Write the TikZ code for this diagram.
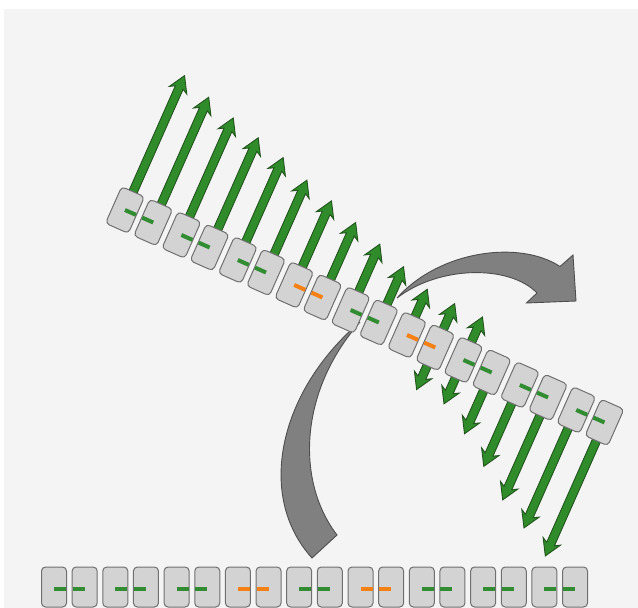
\documentclass[tikz,border=0pt]{standalone}
\definecolor{bg}{RGB}{244,244,244}
\definecolor{boxfill}{RGB}{211,211,211}
\definecolor{boxline}{RGB}{112,112,112}
\definecolor{gfill}{RGB}{48,140,42}
\definecolor{gline}{RGB}{34,84,30}
\definecolor{dashg}{RGB}{50,140,50}
\definecolor{dasho}{RGB}{245,128,20}
\definecolor{grayfill}{RGB}{128,128,128}
\definecolor{grayline}{RGB}{78,78,78}
\tikzset{
  cell/.style={draw=boxline, fill=boxfill, line width=1pt, rounded corners=4pt,
    minimum width=25pt, minimum height=40pt, inner sep=0pt},
  fatarrow/.style={fill=gfill, draw=gline, line width=0.9pt, line join=miter},
  greyband/.style={fill=grayfill, draw=grayline, line width=0.9pt},
  pairdash/.style={line width=4pt},
}
\begin{document}
\begin{tikzpicture}[x=1pt,y=-1pt]
\useasboundingbox (0,0) rectangle (638,608);
\fill[white] (0,0) rectangle (638,608);
\fill[bg] (4,9) rectangle (638,608);

% green arrows, in the frame of the tilted chain
\begin{scope}[shift={(125,210)}, rotate=-23.9]
  \foreach \i/\L in {1/147,2/137,3/128,4/120,5/112,6/101,7/92,8/82,9/72,10/61,11/50,12/48,13/47} {
    \pgfmathsetmacro\xx{30.85*(\i-1)}
    \filldraw[fatarrow] (\xx-4.25,0) -- (\xx-4.25,-\L+13) -- (\xx-9.5,-\L+16) -- (\xx,-\L)
      -- (\xx+9.5,-\L+16) -- (\xx+4.25,-\L+13) -- (\xx+4.25,0) -- cycle;
  }
  \foreach \i/\L in {12/46,13/48,14/67,15/89,16/112,17/129,18/146} {
    \pgfmathsetmacro\xx{30.85*(\i-1)}
    \filldraw[fatarrow] (\xx-4.25,0) -- (\xx-4.25,\L-13) -- (\xx-9.5,\L-16) -- (\xx,\L)
      -- (\xx+9.5,\L-16) -- (\xx+4.25,\L-13) -- (\xx+4.25,0) -- cycle;
  }
\end{scope}

% grey curved arrows
\filldraw[greyband] (397,298) .. controls (440,250) and (520,240) .. (560,266.5)
  -- (573,255) -- (576,301) -- (526.5,303) -- (537,293)
  .. controls (510,265) and (440,265) .. (397,298) -- cycle;
\filldraw[greyband] (360,322) .. controls (280,390) and (255,495) .. (312,558)
  -- (337,535) .. controls (295,480) and (300,390) .. (360,322) -- cycle;

% tilted chain of boxes
\begin{scope}[shift={(125,210)}, rotate=-23.9, transform shape]
  \foreach \i in {1,...,18} {
    \node[cell] (b\i) at ({30.85*(\i-1)},0) {};
  }
  \foreach \p/\c in {1/dashg,2/dashg,3/dashg,4/dasho,5/dashg,6/dasho,7/dashg,8/dashg,9/dashg} {
    \pgfmathsetmacro\xl{30.85*(2*\p-2)}
    \pgfmathsetmacro\xr{30.85*(2*\p-1)}
    \draw[pairdash, draw=\c] (\xl,0) -- (\xl+12,0);
    \draw[pairdash, draw=\c] (\xr-12,0) -- (\xr,0);
  }
\end{scope}

% straight row of boxes
\foreach \j in {1,...,18} {
  \node[cell] (r\j) at ({54+30.65*(\j-1)},587) {};
}
\foreach \p/\c in {1/dashg,2/dashg,3/dashg,4/dasho,5/dashg,6/dasho,7/dashg,8/dashg,9/dashg} {
  \pgfmathsetmacro\xl{54+30.65*(2*\p-2)}
  \pgfmathsetmacro\xr{54+30.65*(2*\p-1)}
  \draw[pairdash, draw=\c] (\xl,589) -- (\xl+12,589);
  \draw[pairdash, draw=\c] (\xr-12,589) -- (\xr,589);
}
\end{tikzpicture}
\end{document}
